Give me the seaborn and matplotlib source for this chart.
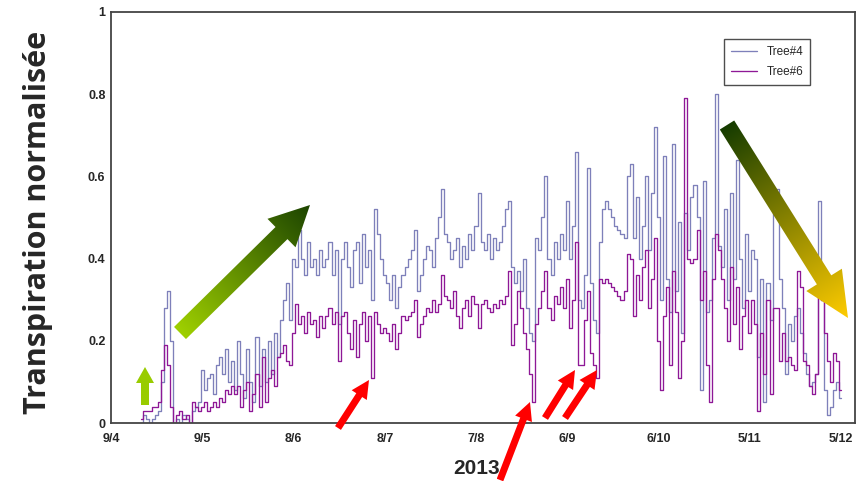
import numpy as np
import pandas as pd
import seaborn as sns
import matplotlib
matplotlib.use("Agg")
import matplotlib.pyplot as plt
from matplotlib.patches import Polygon

# days counted from 9/4 (9 April 2013), one value per day
days = list(range(10, 241))

tree4 = [
    0.00, 0.02, 0.01, 0.00, 0.01, 0.02, 0.03, 0.10, 0.28, 0.32, 0.20,
    0.00, 0.01, 0.00, 0.02, 0.01, 0.00, 0.03, 0.04, 0.05, 0.13,
    0.08, 0.11, 0.12, 0.07, 0.14, 0.16, 0.12, 0.18, 0.10, 0.15,
    0.08, 0.20, 0.12, 0.06, 0.18, 0.10, 0.05, 0.21, 0.09, 0.18,
    0.10, 0.20, 0.12, 0.22, 0.16, 0.25, 0.30, 0.34, 0.25, 0.40,
    0.38, 0.47, 0.40, 0.36, 0.44, 0.38, 0.40, 0.36, 0.42, 0.38,
    0.40, 0.44, 0.36, 0.42, 0.24, 0.40, 0.44, 0.38, 0.33, 0.42,
    0.44, 0.34, 0.46, 0.38, 0.42, 0.30, 0.52, 0.46, 0.40, 0.36,
    0.34, 0.30, 0.36, 0.28, 0.33, 0.36, 0.38, 0.40, 0.42, 0.47,
    0.32, 0.36, 0.40, 0.43, 0.42, 0.38, 0.45, 0.50, 0.57, 0.46,
    0.44, 0.40, 0.42, 0.45, 0.38, 0.43, 0.40, 0.46, 0.42, 0.48,
    0.56, 0.44, 0.42, 0.46, 0.40, 0.45, 0.42, 0.44, 0.48, 0.52,
    0.54, 0.38, 0.34, 0.37, 0.32, 0.40, 0.28, 0.22, 0.20, 0.45,
    0.42, 0.50, 0.60, 0.40, 0.36, 0.44, 0.40, 0.46, 0.42, 0.54,
    0.40, 0.48, 0.66, 0.30, 0.28, 0.36, 0.62, 0.34, 0.25, 0.22,
    0.44, 0.52, 0.54, 0.52, 0.50, 0.48, 0.47, 0.46, 0.45, 0.60,
    0.63, 0.45, 0.55, 0.40, 0.48, 0.60, 0.42, 0.56, 0.72, 0.50,
    0.30, 0.65, 0.35, 0.27, 0.68, 0.32, 0.49, 0.22, 0.51, 0.42,
    0.55, 0.58, 0.50, 0.08, 0.59, 0.27, 0.30, 0.45, 0.80, 0.43,
    0.38, 0.52, 0.30, 0.56, 0.35, 0.64, 0.40, 0.28, 0.46, 0.32,
    0.42, 0.40, 0.16, 0.35, 0.05, 0.34, 0.25, 0.51, 0.57, 0.35,
    0.28, 0.12, 0.24, 0.20, 0.26, 0.28, 0.22, 0.17, 0.12, 0.09,
    0.10, 0.12, 0.54, 0.30, 0.08, 0.02, 0.04, 0.08, 0.10, 0.06,
]

tree6 = [
    0.01, 0.03, 0.03, 0.03, 0.04, 0.04, 0.05, 0.13, 0.19, 0.14, 0.04,
    0.00, 0.02, 0.03, 0.01, 0.02, 0.00, 0.05, 0.04, 0.03, 0.04,
    0.05, 0.03, 0.04, 0.05, 0.04, 0.06, 0.05, 0.08, 0.07, 0.09,
    0.07, 0.09, 0.04, 0.08, 0.10, 0.03, 0.07, 0.12, 0.04, 0.16,
    0.05, 0.11, 0.13, 0.09, 0.16, 0.17, 0.19, 0.15, 0.14, 0.22,
    0.29, 0.24, 0.26, 0.22, 0.27, 0.24, 0.25, 0.21, 0.26, 0.23,
    0.26, 0.28, 0.24, 0.27, 0.15, 0.26, 0.27, 0.22, 0.18, 0.25,
    0.16, 0.24, 0.27, 0.20, 0.26, 0.11, 0.27, 0.24, 0.22, 0.23,
    0.22, 0.20, 0.24, 0.18, 0.22, 0.26, 0.25, 0.26, 0.27, 0.30,
    0.21, 0.24, 0.26, 0.28, 0.27, 0.30, 0.27, 0.29, 0.36, 0.31,
    0.30, 0.28, 0.32, 0.26, 0.23, 0.28, 0.30, 0.26, 0.31, 0.29,
    0.23, 0.29, 0.30, 0.28, 0.27, 0.29, 0.28, 0.30, 0.29, 0.31,
    0.37, 0.19, 0.24, 0.32, 0.28, 0.22, 0.18, 0.12, 0.05, 0.24,
    0.28, 0.32, 0.37, 0.28, 0.25, 0.31, 0.29, 0.33, 0.28, 0.35,
    0.23, 0.30, 0.44, 0.14, 0.14, 0.25, 0.32, 0.17, 0.14, 0.11,
    0.35, 0.34, 0.35, 0.34, 0.33, 0.32, 0.31, 0.30, 0.32, 0.41,
    0.40, 0.26, 0.36, 0.30, 0.38, 0.42, 0.28, 0.35, 0.45, 0.20,
    0.08, 0.26, 0.33, 0.14, 0.37, 0.27, 0.11, 0.20, 0.79, 0.40,
    0.39, 0.40, 0.47, 0.30, 0.37, 0.14, 0.05, 0.35, 0.46, 0.42,
    0.35, 0.28, 0.20, 0.38, 0.24, 0.33, 0.18, 0.26, 0.30, 0.22,
    0.30, 0.24, 0.03, 0.22, 0.12, 0.30, 0.07, 0.28, 0.28, 0.15,
    0.22, 0.15, 0.16, 0.14, 0.13, 0.37, 0.33, 0.15, 0.14, 0.09,
    0.07, 0.12, 0.32, 0.30, 0.22, 0.15, 0.10, 0.17, 0.15, 0.08,
]

tick_days = [0, 30, 60, 90, 120, 150, 180, 210, 240]
tick_labels = ["9/4", "9/5", "8/6", "8/7", "7/8", "6/9", "6/10", "5/11", "5/12"]
y_ticks = [0, 0.2, 0.4, 0.6, 0.8, 1]
y_labels = ["0", "0.2", "0.4", "0.6", "0.8", "1"]

sns.set_style("white")
plt.rcParams["font.family"] = ["Liberation Sans", "DejaVu Sans"]

W, H = 868, 486
fig = plt.figure(figsize=(W / 100, H / 100), dpi=100)
ax = fig.add_axes([111 / W, 1 - 423 / H, (855 - 111) / W, (423 - 12) / H])

df = pd.DataFrame({
    "day": days + days,
    "value": tree4 + tree6,
    "tree": ["Tree#4"] * len(days) + ["Tree#6"] * len(days),
})
sns.lineplot(data=df, x="day", y="value", hue="tree",
             palette={"Tree#4": "#7e80ba", "Tree#6": "#8e1896"},
             estimator=None, drawstyle="steps-mid", linewidth=0.95, ax=ax)

ax.set_xlim(0, 244.6)
ax.set_ylim(0, 1)
ax.set_xticks(tick_days)
ax.set_xticklabels(tick_labels, fontweight="bold", fontsize=9)
ax.set_yticks(y_ticks)
ax.set_yticklabels(y_labels, fontweight="bold", fontsize=9)
ax.tick_params(direction="in", length=3, width=1, color="#333333", pad=4)
ax.tick_params(axis="x", pad=7)
ax.set_xlabel("")
ax.set_ylabel("")
for s in ax.spines.values():
    s.set_color("#444444")
    s.set_linewidth(1.3)

handles, labels = ax.get_legend_handles_labels()
leg = ax.legend(handles, labels, loc="upper left",
                bbox_to_anchor=(724 / W, 1 - 39 / H), bbox_transform=fig.transFigure,
                frameon=True, fancybox=False, fontsize=8.5, handlelength=2.2,
                borderaxespad=0, borderpad=0.6, labelspacing=0.7)
leg.get_frame().set_edgecolor("#222222")
leg.get_frame().set_linewidth(1.0)

fig.text(38 / W, 1 - 222 / H, "Transpiration normalisée", rotation=90,
         fontsize=22, fontweight="bold", family=["Open Sans", "DejaVu Sans"],
         ha="center", va="center")
fig.text(477 / W, 1 - 468 / H, "2013", fontsize=15, fontweight="bold",
         ha="center", va="center")

# overlay in pixel coordinates for the annotation arrows
ov = fig.add_axes([0, 0, 1, 1], zorder=5)
ov.set_xlim(0, W)
ov.set_ylim(H, 0)
ov.axis("off")


def arrow(tail, tip, width, head_w, head_l, c0, c1):
    tail = np.array(tail, float)
    tip = np.array(tip, float)
    L = np.hypot(*(tip - tail))
    u = (tip - tail) / L
    n = np.array([-u[1], u[0]])
    neck = tip - u * head_l
    pts = np.array([tail + n * width / 2, neck + n * width / 2, neck + n * head_w / 2,
                    tip, neck - n * head_w / 2, neck - n * width / 2, tail - n * width / 2])
    poly = Polygon(pts, closed=True, facecolor="none", edgecolor="none")
    ov.add_patch(poly)
    x0, y0 = pts.min(axis=0)
    x1, y1 = pts.max(axis=0)
    X, Y = np.meshgrid(np.linspace(x0, x1, 120), np.linspace(y0, y1, 120))
    t = np.clip(((X - tail[0]) * u[0] + (Y - tail[1]) * u[1]) / L, 0, 1)[..., None]
    c0 = np.array(matplotlib.colors.to_rgb(c0))
    c1 = np.array(matplotlib.colors.to_rgb(c1))
    img = c0 * (1 - t) + c1 * t
    im = ov.imshow(img, extent=(x0, x1, y0, y1), origin="lower",
                   interpolation="bilinear", aspect="auto")
    im.set_clip_path(poly)


arrow((145, 405), (145, 367), 8, 18, 16, "#99cc00", "#99cc00")
arrow((180, 333), (310, 205), 17, 40, 40, "#9fd000", "#1c4400")
arrow((727, 125), (848, 318), 17, 42, 45, "#163c00", "#ffcc00")
red = "#ff0000"
arrow((338, 428), (369, 380), 7, 18, 18, red, red)
arrow((500, 480), (530, 402), 7, 18, 18, red, red)
arrow((545, 418), (575, 370), 7, 18, 18, red, red)
arrow((565, 418), (597, 370), 7, 18, 18, red, red)
ov.set_xlim(0, W)
ov.set_ylim(H, 0)

fig.savefig("out.png", dpi=100)
